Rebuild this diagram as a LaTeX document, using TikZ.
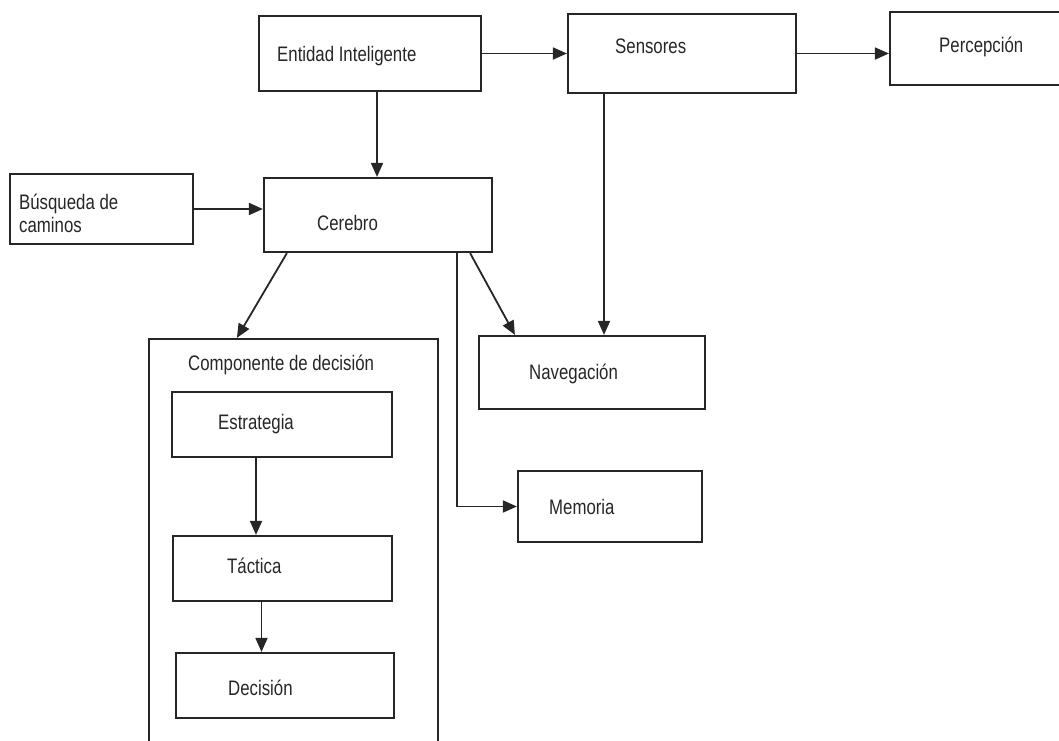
\documentclass[tikz,border=0pt]{standalone}
\usepackage{fontspec}
\setmainfont{Liberation Sans}[FakeStretch=0.8]
\usetikzlibrary{arrows.meta}
\definecolor{ink}{HTML}{262626}
\begin{document}
\begin{tikzpicture}[x=1pt,y=-1pt,
  box/.style={draw=ink, line width=2.2pt, rectangle, inner sep=0pt},
  lbl/.style={anchor=base west, inner sep=0pt, text=ink,
              font=\fontsize{21}{23}\selectfont},
  conn/.style={draw=ink, line width=1.8pt,
               -{Triangle[length=14pt,width=12pt]}}]
\useasboundingbox (0,0) rectangle (1059,740);

% boxes
\node[box, minimum width=222pt, minimum height=75pt]  (ent)  at (370,53.5)   {};
\node[box, minimum width=228pt, minimum height=79pt]  (sen)  at (682,53.5)   {};
\node[box, minimum width=176pt, minimum height=73pt]  (perc) at (978,48.5)   {};
\node[box, minimum width=183pt, minimum height=70pt]  (bus)  at (101.5,209)  {};
\node[box, minimum width=228pt, minimum height=74pt]  (cer)  at (378,215)    {};
\node[box, minimum width=289pt, minimum height=409pt] (comp) at (293.5,543.5) {};
\node[box, minimum width=220pt, minimum height=65pt]  (est)  at (282,424.5)  {};
\node[box, minimum width=219pt, minimum height=65pt]  (tac)  at (282.5,568.5) {};
\node[box, minimum width=218pt, minimum height=65pt]  (dec)  at (285,685.5)  {};
\node[box, minimum width=226pt, minimum height=73pt]  (nav)  at (592,372.5)  {};
\node[box, minimum width=184pt, minimum height=71pt]  (mem)  at (610,506.5)  {};

% labels
\node[lbl] (ent-t)  at (277,61.5)  {Entidad Inteligente};
\node[lbl] (sen-t)  at (615,53.5)  {Sensores};
\node[lbl] (perc-t) at (939,52.5)  {Percepción};
\node[lbl] (bus-t1) at (19,209.5)  {Búsqueda de};
\node[lbl] (bus-t2) at (19,232.5)  {caminos};
\node[lbl] (cer-t)  at (317,230.5) {Cerebro};
\node[lbl] (comp-t) at (188,370.5) {Componente de decisión};
\node[lbl] (est-t)  at (218,429.5) {Estrategia};
\node[lbl] (nav-t)  at (529,379.5) {Navegación};
\node[lbl] (mem-t)  at (549,514.5) {Memoria};
\node[lbl] (tac-t)  at (227,573.5) {Táctica};
\node[lbl] (dec-t)  at (228,695.5) {Decisión};

% connector start points
\coordinate (e1) at ([xshift=7pt]ent.south);
\coordinate (s1) at ([xshift=-78pt]sen.south);
\coordinate (c1) at ([xshift=-36pt]cer.south east);
\coordinate (t1) at ([xshift=-26pt]est.south);
\coordinate (t2) at ([xshift=-21pt]tac.south);

% connectors
\draw[conn] (ent.east) -- (ent.east -| sen.west);
\draw[conn] (sen.east) -- (sen.east -| perc.west);
\draw[conn] (e1) -- (e1 |- cer.north);
\draw[conn] (bus.east) -- (bus.east -| cer.west);
\draw[conn] ([xshift=24pt]cer.south west) -- ([xshift=89pt]comp.north west);
\draw[conn] ([xshift=-23pt]cer.south east) -- ([xshift=37pt]nav.north west);
\draw[conn] (s1) -- (s1 |- nav.north);
\draw[conn] (c1) |- (mem.west);
\draw[conn] (t1) -- (t1 |- tac.north);
\draw[conn] (t2) -- (t2 |- dec.north);
\end{tikzpicture}
\end{document}
